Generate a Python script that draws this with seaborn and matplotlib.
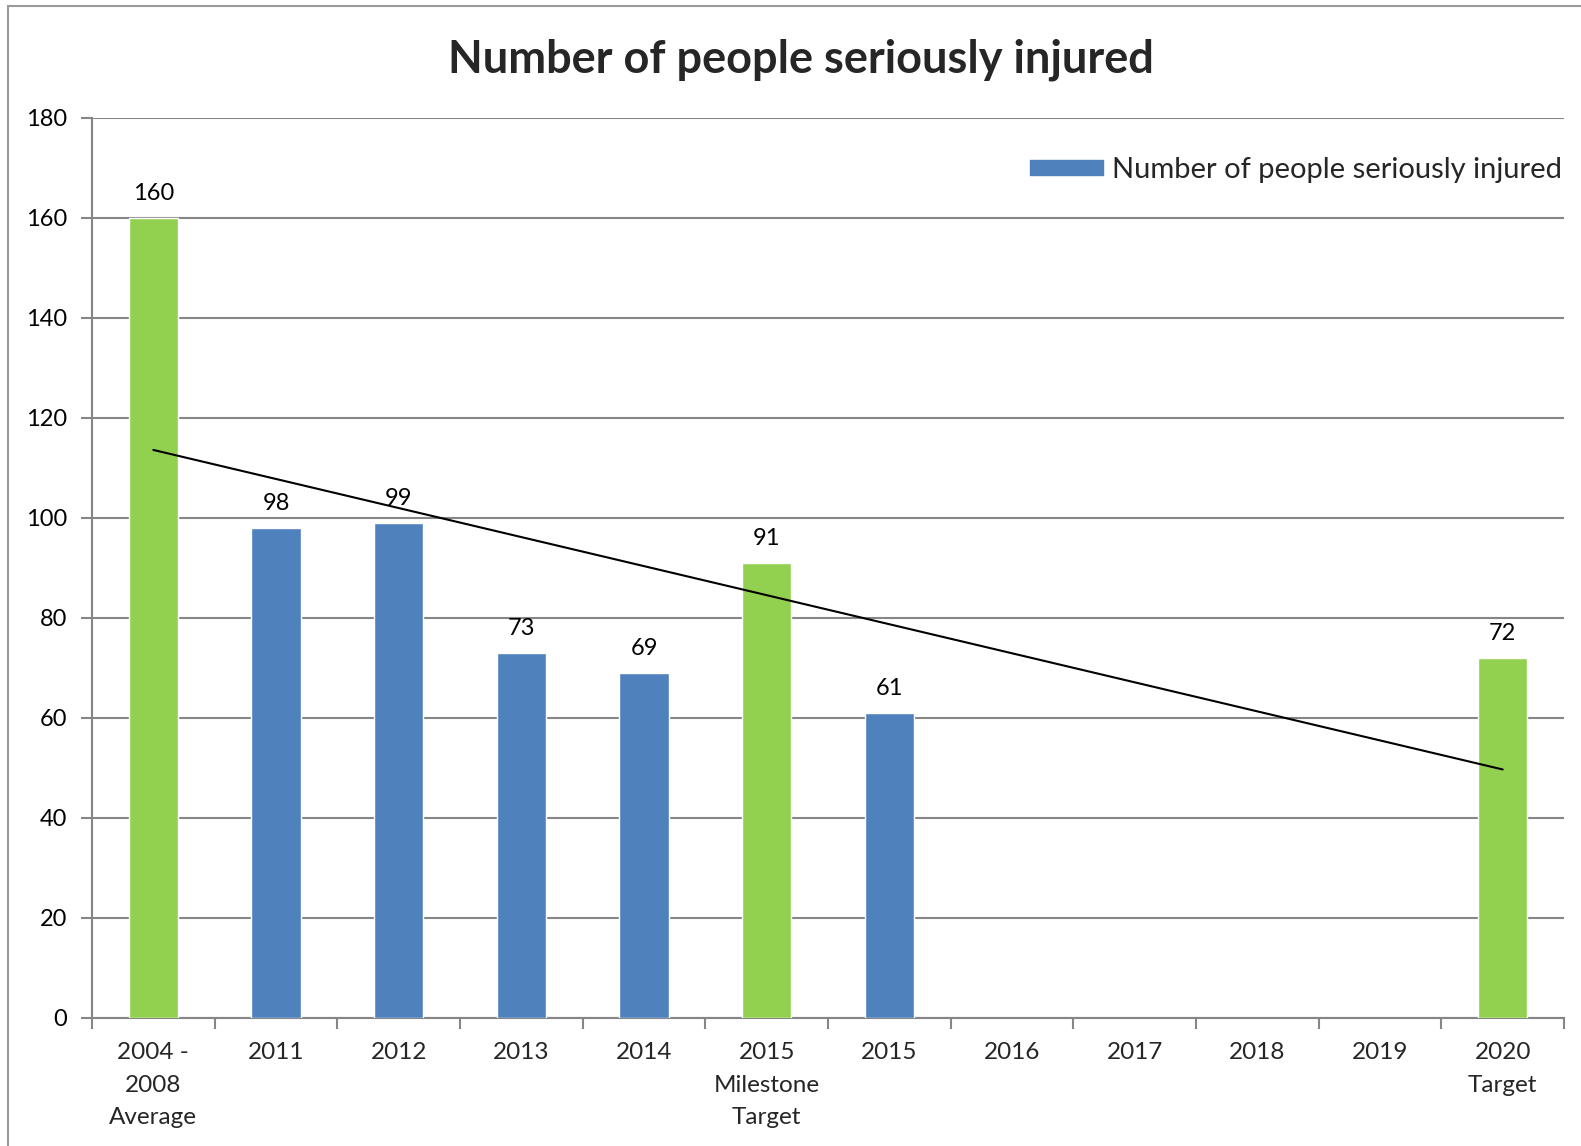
import numpy as np
import pandas as pd
import matplotlib
matplotlib.use("Agg")
import matplotlib.pyplot as plt
from matplotlib.patches import Patch, Rectangle
import seaborn as sns

# Categories along the x axis (12 slots; 2016-2019 have no data yet)
categories = ["2004 -\n2008\nAverage", "2011", "2012", "2013", "2014",
              "2015\nMilestone\nTarget", "2015", "2016", "2017", "2018",
              "2019", "2020\nTarget"]
values = [160, 98, 99, 73, 69, 91, 61, None, None, None, None, 72]
kinds = ["target", "actual", "actual", "actual", "actual", "target",
         "actual", None, None, None, None, "target"]
y_ticks = [0, 20, 40, 60, 80, 100, 120, 140, 160, 180]

BLUE = "#4F81BD"
GREEN = "#92D050"
GRID = "#868686"

sns.set_theme(style="white")
plt.rcParams["font.family"] = ["Lato", "DejaVu Sans"]

df = pd.DataFrame({"category": categories, "value": values, "kind": kinds})
data = df.dropna(subset=["value"])

fig = plt.figure(figsize=(15.81, 11.46), dpi=100)
W, H = 1581, 1146
L, R, T, B = 92, 1564, 118, 1018
ax = fig.add_axes([L / W, 1 - B / H, (R - L) / W, (B - T) / H])

sns.barplot(data=data, x="category", y="value", hue="kind", order=categories,
            palette={"actual": BLUE, "target": GREEN}, dodge=False,
            width=0.4, saturation=1, legend=False, ax=ax, zorder=3)

# linear trendline through the available values
xpos = np.array([i for i, v in enumerate(values) if v is not None], dtype=float)
yval = np.array([v for v in values if v is not None], dtype=float)
slope, intercept = np.polyfit(xpos, yval, 1)
xt = np.array([0, len(categories) - 1], dtype=float)
ax.plot(xt, slope * xt + intercept, color="black", lw=1.5, zorder=4)

# value labels above bars
for i, v in enumerate(values):
    if v is not None:
        ax.annotate(f"{v}", (i, v), xytext=(0, 10), textcoords="offset points",
                    ha="center", va="bottom", fontsize=17, color="black", zorder=5)

ax.set_xlim(-0.5, len(categories) - 0.5)
ax.set_ylim(0, 180)
ax.set_yticks(y_ticks)
ax.set_yticklabels([str(t) for t in y_ticks], fontsize=17)
ax.yaxis.grid(True, color=GRID, lw=1.5, zorder=0)
ax.set_axisbelow(True)
ax.set_xlabel("")
ax.set_ylabel("")

for side in ["top", "right"]:
    ax.spines[side].set_visible(False)
for side in ["left", "bottom"]:
    ax.spines[side].set_color(GRID)
    ax.spines[side].set_linewidth(1.5)

# category tick marks sit on the boundaries between slots
ax.set_xticks(np.arange(-0.5, len(categories), 1.0))
ax.set_xticklabels([])
ax.set_xticks(np.arange(len(categories)), minor=True)
ax.set_xticklabels(categories, minor=True, fontsize=17.5, linespacing=1.68)
ax.tick_params(axis="x", which="major", direction="out", length=8, width=1.5,
               color=GRID, bottom=True)
ax.tick_params(axis="x", which="minor", length=0, pad=17.5, bottom=True)
ax.tick_params(axis="y", direction="out", length=8, width=1.5, color=GRID,
               left=True, pad=10, labelcolor="black")

fig.text(801 / W, 1 - 60 / H, "Number of people seriously injured",
         ha="center", va="center", fontsize=32.5, fontweight="bold")

ax.legend(handles=[Patch(facecolor=BLUE, edgecolor=BLUE,
                         label="Number of people seriously injured")],
          loc="center right", bbox_to_anchor=((1562 - L) / (R - L), (B - 170) / (B - T)),
          frameon=False, fontsize=21, handlelength=2.5, handleheight=0.4,
          handletextpad=0.3, borderaxespad=0, borderpad=0)

# chart-area border
fig.add_artist(Rectangle((8 / W, -0.1), 1.2, 1 - 6 / H + 0.1,
                         transform=fig.transFigure, fill=False,
                         edgecolor="#9A9A9A", lw=1.5))

fig.savefig("out.png", dpi=100, facecolor="white")
